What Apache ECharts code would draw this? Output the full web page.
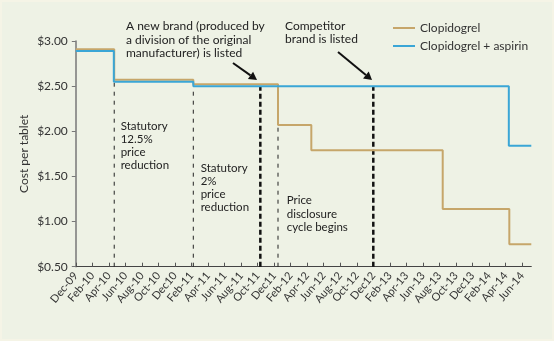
<!DOCTYPE html>
<html>
<head>
<meta charset="utf-8">
<script src="https://cdn.jsdelivr.net/npm/echarts@6/dist/echarts.min.js"></script>
<style>
html,body{margin:0;padding:0;background:#eef2e5;}
#c{width:554px;height:341px;}
</style>
</head>
<body>
<div id="c"></div>
<script>
// X axis: months elapsed since Dec-2009; tick labels every 2 months
const tickLabels = ['Dec-09','Feb-10','Apr-10','Jun-10','Aug-10','Oct-10','Dec10','Feb-11','Apr-11','Jun-11','Aug-11','Oct-11','Dec11','Feb-12','Apr-12','Jun-12','Aug-12','Oct-12','Dec12','Feb-13','Apr-13','Jun-13','Aug-13','Oct-13','Dec13','Feb-14','Apr-14','Jun-14'];
const axisEndMonth = 55.12;

// Step series: month at which a price starts, and the price (A$ per tablet)
const clopMonths = [0, 4.65, 14.22, 24.47, 28.5, 44.4, 52.46, 55.12];
const clopPrice  = [2.91, 2.57, 2.52, 2.07, 1.79, 1.14, 0.75, 0.75];
const comboMonths = [0, 4.6, 14.22, 52.4, 55.12];
const comboPrice  = [2.89, 2.55, 2.50, 1.84, 1.84];

// Event markers (vertical dashed lines)
const thinEventMonths = [4.65, 14.22, 24.47];
const thinEventTop    = [2.54, 2.49, 2.48];
const thickEventMonths = [22.33, 36.0];
const thickEventTop    = [2.49, 2.49];

const yTicks = [0.5, 1.0, 1.5, 2.0, 2.5, 3.0];

const tan = '#c6a66a';
const blue = '#3aa6d6';

const chart = echarts.init(document.getElementById('c'));

const pairs = (xs, ys) => xs.map((x, i) => [x, ys[i]]);
const series = [];
thinEventMonths.forEach((m, i) => {
  series.push({type:'line', data:[[m, yTicks[0]], [m, thinEventTop[i]]], symbol:'none', silent:true, z:1,
    lineStyle:{color:'#222', width:1, type:[4,5]}});
});
thickEventMonths.forEach((m, i) => {
  series.push({type:'line', data:[[m, yTicks[0]], [m, thickEventTop[i]]], symbol:'none', silent:true, z:1,
    lineStyle:{color:'#111', width:2.5, type:[5,3]}});
});
series.push({name:'Clopidogrel', type:'line', step:'end', data:pairs(clopMonths, clopPrice), symbol:'none', z:3,
  lineStyle:{color:tan, width:2}, itemStyle:{color:tan}});
series.push({name:'Clopidogrel + aspirin', type:'line', step:'end', data:pairs(comboMonths, comboPrice), symbol:'none', z:4,
  lineStyle:{color:blue, width:2}, itemStyle:{color:blue}});

const tickValues = tickLabels.map((_, i) => i * 2);
const FONT = 'Lato';

chart.setOption({
  animation:false,
  backgroundColor:'#eef2e5',
  textStyle:{fontFamily:FONT},
  grid:{left:75.8, right:22.7, top:41, bottom:74.3, containLabel:false},
  legend:{
    data:['Clopidogrel','Clopidogrel + aspirin'],
    orient:'vertical', left:388, top:17, icon:'rect', itemWidth:22, itemHeight:2, itemGap:6,
    textStyle:{fontFamily:FONT, fontSize:12, color:'#333'}
  },
  xAxis:{
    type:'value', min:0, max:axisEndMonth,
    splitLine:{show:false},
    axisLine:{show:true, lineStyle:{color:'#444', width:1}},
    axisTick:{show:true, inside:true, length:4, lineStyle:{color:'#555'}, customValues:tickValues},
    axisLabel:{customValues:tickValues, rotate:50, margin:7, fontSize:11, color:'#333', fontFamily:FONT,
      formatter:v => tickLabels[Math.round(v/2)] || ''}
  },
  yAxis:{
    type:'value', min:0.5, max:3.0, interval:0.5,
    name:'Cost per tablet', nameLocation:'middle', nameGap:46, nameMoveOverlap:false,
    nameTextStyle:{fontSize:12, color:'#333', fontFamily:FONT},
    splitLine:{show:false},
    axisLine:{show:true, lineStyle:{color:'#777', width:1.5}},
    axisTick:{show:true, inside:false, length:4, lineStyle:{color:'#777'}},
    axisLabel:{fontSize:12, color:'#333', margin:8, fontFamily:FONT, formatter:v => '$' + v.toFixed(2)}
  },
  series:series
});

// Annotations anchored in data coordinates (month, price)
const notes = [
  {text:'A new brand (produced by\na division of the original\nmanufacturer) is listed', at:[6.07, 3.238], size:12, lh:13.5},
  {text:'Competitor\nbrand is listed', at:[25.32, 3.23], size:12, lh:12.5},
  {text:'Statutory\n12.5%\nprice\nreduction', at:[5.43, 2.13], size:11.5, lh:13.2},
  {text:'Statutory\n2%\nprice\nreduction', at:[15.11, 1.665], size:11.5, lh:13.2},
  {text:'Price\ndisclosure\ncycle begins', at:[25.52, 1.311], size:11.5, lh:13.6}
];
const arrows = [
  {from:[19.02, 2.756], to:[21.93, 2.568]},
  {from:[31.73, 2.878], to:[35.85, 2.568]}
];
const px = p => chart.convertToPixel({gridIndex:0}, p);
const graphics = [];
notes.forEach(n => {
  const p = px(n.at);
  graphics.push({type:'text', x:p[0], y:p[1], silent:true, z:10,
    style:{text:n.text, fill:'#222', font:n.size + 'px ' + FONT, lineHeight:n.lh, verticalAlign:'top', align:'left'}});
});
arrows.forEach(a => {
  const s = px(a.from), e = px(a.to);
  const dx = e[0]-s[0], dy = e[1]-s[1], L = Math.hypot(dx, dy);
  const ux = dx/L, uy = dy/L, head = 8, hw = 4.5;
  const bx = e[0]-ux*head, by = e[1]-uy*head;
  graphics.push({type:'line', silent:true, z:10, shape:{x1:s[0], y1:s[1], x2:bx, y2:by}, style:{stroke:'#111', lineWidth:2}});
  graphics.push({type:'polygon', silent:true, z:10, shape:{points:[[e[0],e[1]],[bx-uy*hw, by+ux*hw],[bx+uy*hw, by-ux*hw]]}, style:{fill:'#111'}});
});
graphics.push({type:'rect', silent:true, z:0, shape:{x:1, y:1, width:552, height:339}, style:{fill:'none', stroke:'#f5f4e6', lineWidth:2}});
chart.setOption({graphic:graphics});
</script>
</body>
</html>
